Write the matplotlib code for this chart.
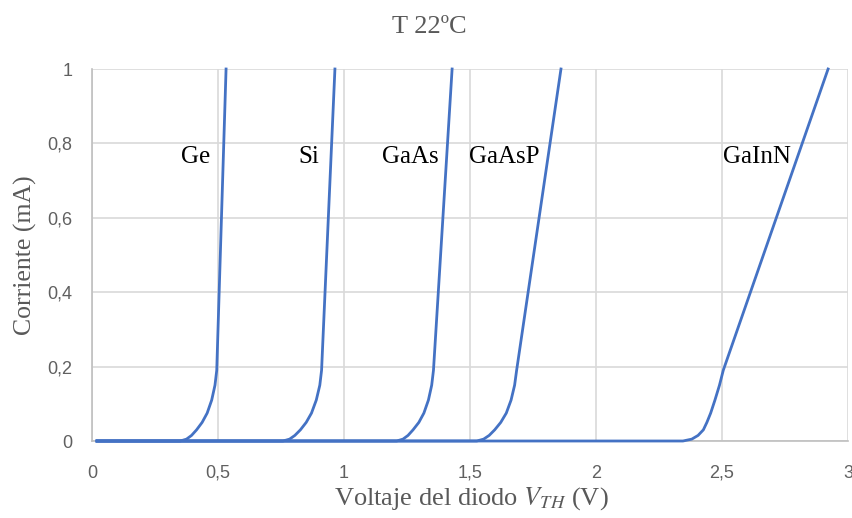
import matplotlib
matplotlib.use("Agg")
import matplotlib.pyplot as plt

# curvas I-V (V, mA)
knee_y = [0, 0, 0.005, 0.015, 0.03, 0.05, 0.075, 0.11, 0.15, 0.19, 1.0]
ge_x = [0.02, 0.35, 0.375, 0.395, 0.415, 0.437, 0.457, 0.475, 0.488, 0.495, 0.532]
si_x = [0.02, 0.758, 0.784, 0.805, 0.827, 0.850, 0.871, 0.890, 0.904, 0.911, 0.964]
gaas_x = [0.02, 1.209, 1.234, 1.254, 1.274, 1.297, 1.317, 1.335, 1.348, 1.355, 1.429]
gaasp_x = [0.02, 1.527, 1.554, 1.576, 1.598, 1.622, 1.644, 1.663, 1.677, 1.685, 1.861]
gainn_x = [0.02, 2.345, 2.38, 2.405, 2.426, 2.44, 2.455, 2.472, 2.49, 2.505, 2.921]

names = ["Ge", "Si", "GaAs", "GaAsP", "GaInN"]
label_x = [0.47, 0.90, 1.375, 1.495, 2.64]
label_ha = ["right", "right", "right", "left", "center"]

x_ticks = [0, 0.5, 1, 1.5, 2, 2.5, 3]
x_labels = ["0", "0,5", "1", "1,5", "2", "2,5", "3"]
y_ticks = [0, 0.2, 0.4, 0.6, 0.8, 1]
y_labels = ["0", "0,2", "0,4", "0,6", "0,8", "1"]

plt.rcParams["font.family"] = ["Liberation Serif", "DejaVu Serif"]
plt.rcParams["mathtext.fontset"] = "stix"

fig = plt.figure(figsize=(8.52, 5.18), dpi=100)
ax = fig.add_axes([92 / 852, 1 - 441 / 518, 756 / 852, 372 / 518])

blue = "#4472C4"
for xs in [ge_x, si_x, gaas_x, gaasp_x, gainn_x]:
    ax.plot(xs, knee_y, color=blue, lw=2.0, solid_joinstyle="round", zorder=3, clip_on=False)

for name, lx, ha in zip(names, label_x, label_ha):
    ax.text(lx, 0.763, name, ha=ha, va="center", fontsize=18, color="black")

ax.set_xlim(0, 3)
ax.set_ylim(0, 1)
ax.set_xticks(x_ticks)
ax.set_xticklabels(x_labels)
ax.set_yticks(y_ticks)
ax.set_yticklabels(y_labels)
for lab in ax.get_xticklabels() + ax.get_yticklabels():
    lab.set_fontfamily("Liberation Sans")
    lab.set_fontsize(13)
    lab.set_color("#606060")
ax.tick_params(axis="both", length=0)
ax.tick_params(axis="x", pad=17)
ax.tick_params(axis="y", pad=14)

ax.grid(True, color="#D9D9D9", lw=1.2)
ax.set_axisbelow(True)
for s in ["top", "right"]:
    ax.spines[s].set_visible(False)
for s in ["left", "bottom"]:
    ax.spines[s].set_color("#BFBFBF")
    ax.spines[s].set_linewidth(1.2)

fig.text(429 / 852, 1 - 27 / 518, "T 22ºC", ha="center", va="center", fontsize=19, color="#595959")
fig.text(471 / 852, 1 - 499 / 518, "Voltaje del diodo $V_{TH}$ (V)", ha="center", va="center",
         fontsize=19, color="#595959")
fig.text(25 / 852, 1 - 255 / 518, "Corriente (mA)", ha="center", va="center", rotation=90,
         fontsize=18.5, color="#595959")

fig.savefig("out.png", dpi=100)
